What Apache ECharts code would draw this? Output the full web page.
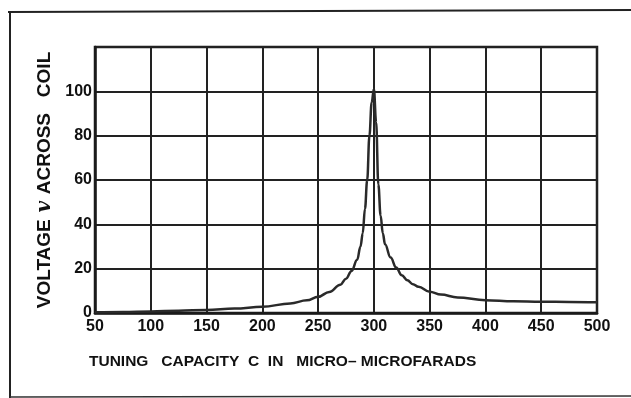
<!DOCTYPE html>
<html>
<head>
<meta charset="utf-8">
<script src="https://cdn.jsdelivr.net/npm/echarts@6/dist/echarts.min.js"></script>
<style>html,body{margin:0;padding:0;background:#fff;}#c{width:631px;height:398px;}</style>
</head>
<body>
<div id="c"></div>
<script>
// Tuning capacity C (micro-microfarads)
var capacity = [50, 75, 100, 125, 150, 175, 200, 225, 240, 250, 260, 270, 275, 280, 285, 288, 290, 292, 294, 296, 298, 300, 302, 304, 306, 308, 310, 315, 320, 325, 330, 335, 340, 350, 360, 375, 400, 425, 450, 475, 500];
// Voltage v across coil
var voltage  = [0.3, 0.5, 0.7, 1.0, 1.4, 2.0, 2.8, 4.3, 5.7, 7.3, 9.5, 12.8, 15.5, 19, 24, 30, 36, 47, 60, 80, 95, 101, 86, 58, 44, 36, 31, 25, 20.5, 17, 14.8, 13, 11.8, 9.6, 8.3, 7, 5.8, 5.3, 5.1, 5, 4.9];
var xTicks = [50, 100, 150, 200, 250, 300, 350, 400, 450, 500];
var yTicks = [0, 20, 40, 60, 80, 100];

var points = capacity.map(function (c, i) { return [c, voltage[i]]; });
var chart = echarts.init(document.getElementById('c'), null, {renderer: 'canvas'});
var font = '"Liberation Sans", Arial, sans-serif';
chart.setOption({
  animation: false,
  backgroundColor: '#fff',
  title: {
    text: 'TUNING   CAPACITY  C  IN   MICRO\u2013 MICROFARADS',
    left: 84, top: 349,
    textStyle: {fontFamily: font, fontWeight: 'bold', fontSize: 15.5, color: '#111'}
  },
  grid: {left: 95, right: 34, top: 47, bottom: 85, show: true, borderColor: '#1a1a1a', borderWidth: 2.5, backgroundColor: 'transparent'},
  xAxis: {
    type: 'value', min: 50, max: 500, interval: 50,
    axisLine: {show: true, lineStyle: {color: '#1a1a1a', width: 2.5}},
    axisTick: {show: false},
    splitLine: {show: true, lineStyle: {color: '#222', width: 2}},
    axisLabel: {
      margin: 6, fontFamily: font, fontWeight: 'bold', fontSize: 16, color: '#111',
      formatter: function (v) { return xTicks.indexOf(v) >= 0 ? String(v) : ''; }
    }
  },
  yAxis: {
    type: 'value', min: 0, max: 120, interval: 20,
    name: '{t|VOLTAGE}  {i|v}  {t|ACROSS   COIL}',
    nameLocation: 'middle', nameRotate: 90, nameGap: 36,
    nameTextStyle: {
      rich: {
        t: {fontFamily: font, fontWeight: 'bold', fontSize: 19, color: '#111'},
        i: {fontFamily: '"DejaVu Serif", serif', fontStyle: 'italic', fontWeight: 'bold', fontSize: 20, color: '#111'}
      }
    },
    axisLine: {show: true, lineStyle: {color: '#1a1a1a', width: 2.5}},
    axisTick: {show: false},
    splitLine: {show: true, lineStyle: {color: '#222', width: 2}},
    axisLabel: {
      margin: 3, fontFamily: font, fontWeight: 'bold', fontSize: 16, color: '#111',
      formatter: function (v) { return yTicks.indexOf(v) >= 0 ? String(v) : ''; }
    }
  },
  series: [{
    type: 'line', data: points, showSymbol: false, smooth: 0.4, smoothMonotone: 'x',
    lineStyle: {color: '#2a2a2a', width: 2.5}, z: 5
  }],
  graphic: [
    {type: 'line', shape: {x1: 8, y1: 12, x2: 631, y2: 10}, style: {stroke: '#222', lineWidth: 2}},
    {type: 'line', shape: {x1: 10, y1: 11, x2: 10, y2: 398}, style: {stroke: '#222', lineWidth: 2}},
    {type: 'line', shape: {x1: 10, y1: 397, x2: 631, y2: 396}, style: {stroke: '#333', lineWidth: 1.5}}
  ]
});
</script>
</body>
</html>
